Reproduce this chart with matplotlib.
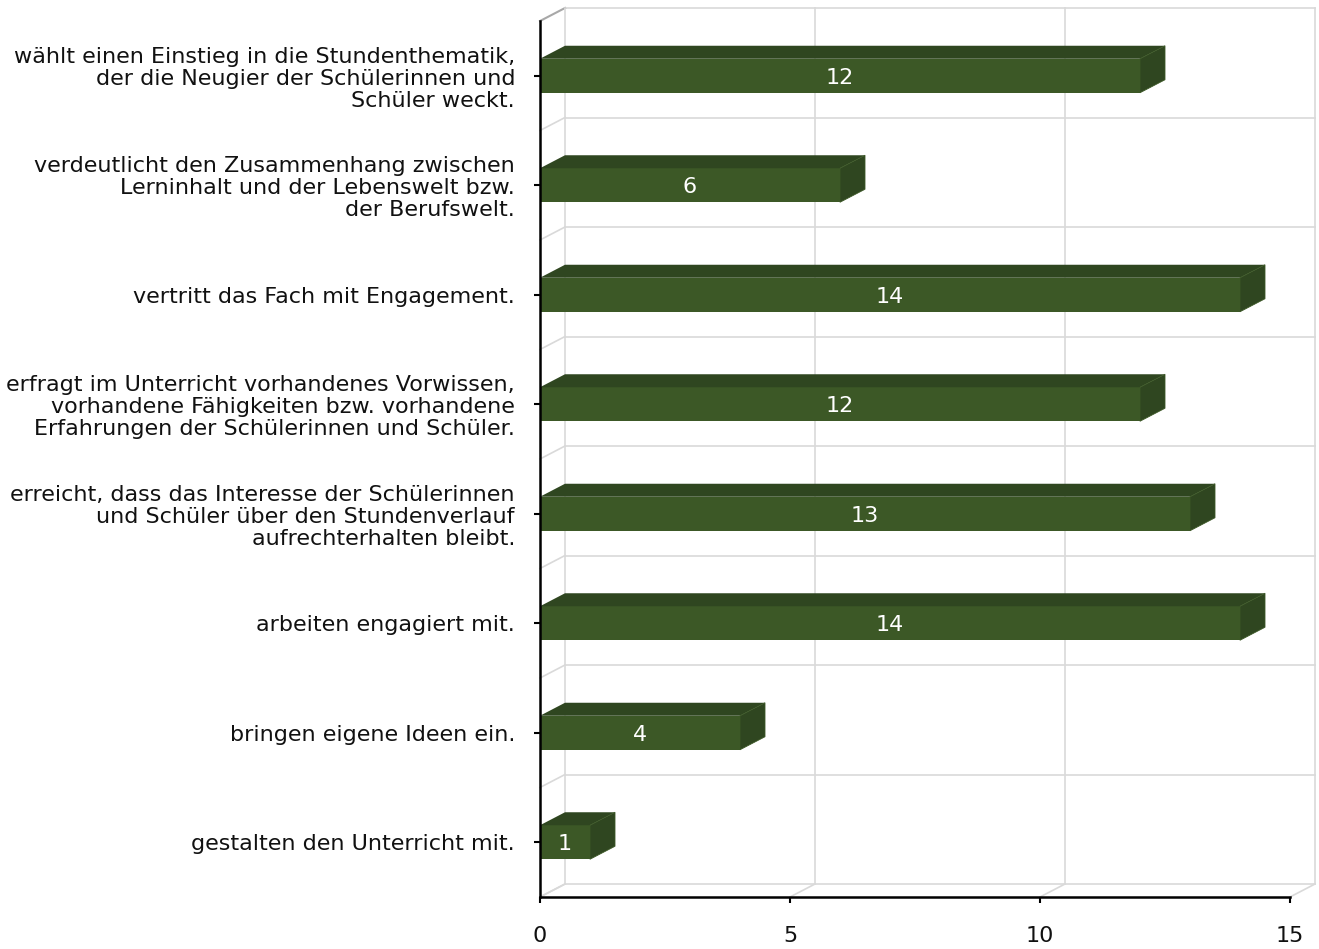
import matplotlib
matplotlib.use("Agg")
import matplotlib.pyplot as plt
from matplotlib.patches import Polygon, Rectangle

categories = [
    "wählt einen Einstieg in die Stundenthematik,\nder die Neugier der Schülerinnen und\nSchüler weckt.",
    "verdeutlicht den Zusammenhang zwischen\nLerninhalt und der Lebenswelt bzw.\nder Berufswelt.",
    "vertritt das Fach mit Engagement.",
    "erfragt im Unterricht vorhandenes Vorwissen,\nvorhandene Fähigkeiten bzw. vorhandene\nErfahrungen der Schülerinnen und Schüler.",
    "erreicht, dass das Interesse der Schülerinnen\nund Schüler über den Stundenverlauf\naufrechterhalten bleibt.",
    "arbeiten engagiert mit.",
    "bringen eigene Ideen ein.",
    "gestalten den Unterricht mit.",
]
values = [12, 6, 14, 12, 13, 14, 4, 1]
xticks = [0, 5, 10, 15]

W, H = 1319, 949
fig = plt.figure(figsize=(W / 100, H / 100), dpi=100)
ax = fig.add_axes([540 / W, (H - 897) / H, 750 / W, 876 / H])
n = len(categories)
ax.set_xlim(0, 15)
ax.set_ylim(-0.5, n - 0.5)
for s in ax.spines.values():
    s.set_visible(False)

# 3D depth offset in data units (25px, 13px)
dx = 25 / 50.0
dy = 13 / (876 / n)
grid = "#d9d9d9"
front = "#3c5826"
dark = "#2f4620"
fs = 16

ymin, ymax = -0.5, n - 0.5
# back wall horizontal grid lines
for k in range(n + 1):
    yb = ymin + k + dy
    ax.plot([dx, 15 + dx], [yb, yb], color=grid, lw=1.2, clip_on=False, zorder=1)
    if k < n:
        ax.plot([0, dx], [ymin + k, ymin + k + dy], color=grid, lw=1.2, clip_on=False, zorder=1)
ax.plot([0, dx], [ymax, ymax + dy], color="#a8a8a8", lw=1.5, clip_on=False, zorder=1)
# back wall vertical grid lines and floor diagonals
for v in xticks:
    ax.plot([v + dx, v + dx], [ymin + dy, ymax + dy], color=grid, lw=1.2, clip_on=False, zorder=1)
    ax.plot([v, v + dx], [ymin, ymin + dy], color=grid, lw=1.2, clip_on=False, zorder=1)

# bars
h = 17 / (876 / n)
for i, v in enumerate(values):
    c = n - 1 - i
    ax.add_patch(Rectangle((0, c - h), v, 2 * h, facecolor=front, edgecolor="none", zorder=3))
    ax.add_patch(Polygon([(0, c + h), (v, c + h), (v + dx, c + h + dy), (dx, c + h + dy)],
                         closed=True, facecolor=dark, edgecolor="none", zorder=3, clip_on=False))
    ax.add_patch(Polygon([(v, c - h), (v + dx, c - h + dy), (v + dx, c + h + dy), (v, c + h)],
                         closed=True, facecolor=dark, edgecolor="#3c5826", lw=0.6, zorder=3, clip_on=False))
    ax.text(v / 2, c - 0.02, str(v), ha="center", va="center", color="white",
            fontsize=fs, zorder=4)

# axis lines
ax.plot([0, 0], [ymin, ymax], color="black", lw=1.8, clip_on=False, zorder=5)
ax.plot([0, 15], [ymin, ymin], color="black", lw=1.8, clip_on=False, zorder=5)

ax.set_yticks(range(n))
ax.set_yticklabels(categories[::-1], fontsize=fs, linespacing=1.12, color="#111111")
ax.set_xticks(xticks)
ax.set_xticklabels([str(t) for t in xticks], fontsize=fs, color="#111111")
ax.tick_params(axis="y", length=4, width=1.5, pad=14)
ax.tick_params(axis="x", length=4, width=1.5, pad=17)

fig.savefig("out.png", dpi=100)
